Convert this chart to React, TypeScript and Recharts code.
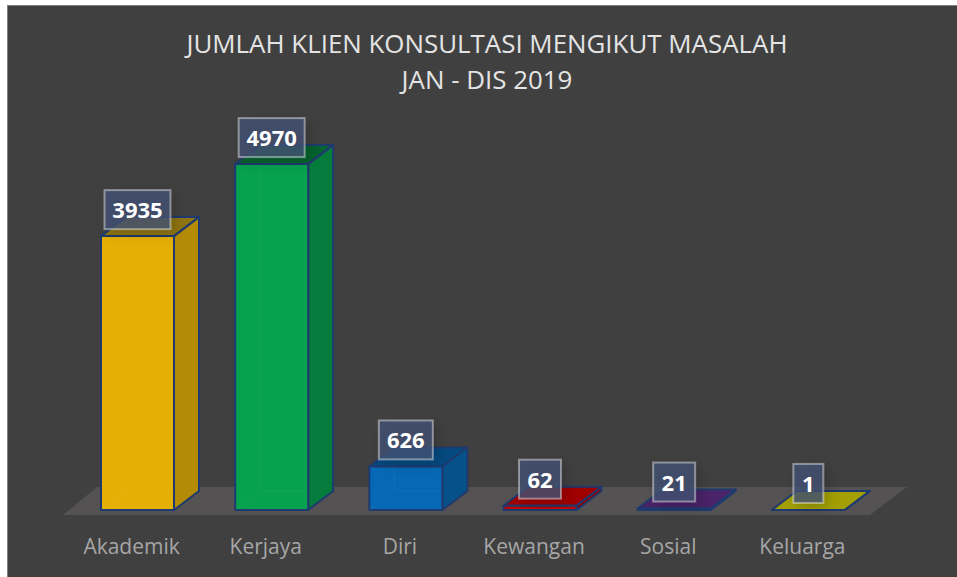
import { BarChart, Bar, XAxis, YAxis, Cell, LabelList, Customized } from 'recharts';

const categories = ['Akademik', 'Kerjaya', 'Diri', 'Kewangan', 'Sosial', 'Keluarga'];
const clients = [3935, 4970, 626, 62, 21, 1];
const frontColors = ['#E6AF06', '#07A24E', '#0569B5', '#C00000', '#5B2A83', '#C4BE05'];
const sideColors = ['#B38B06', '#067C3C', '#05528B', '#8E0000', '#43205F', '#9A9605'];
const topColors = ['#8F7512', '#06632F', '#054A80', '#A00000', '#4A2368', '#A3A005'];
const titleLines = ['JUMLAH KLIEN KONSULTASI MENGIKUT MASALAH', 'JAN - DIS 2019'];

const data = categories.map((name, i) => ({ name, value: clients[i] }));

const DEPTH_X = 25;
const DEPTH_Y = 19;
const EDGE = '#1F3A6E';
const FONT = '"Open Sans", "Noto Sans", sans-serif';

function Bar3D(props: any) {
  const { x, y, width, height, index } = props;
  const bottom = y + height;
  const right = x + width;
  return (
    <g stroke={EDGE} strokeWidth={2} strokeLinejoin="round">
      <polygon
        points={`${x},${y} ${right},${y} ${right + DEPTH_X},${y - DEPTH_Y} ${x + DEPTH_X},${y - DEPTH_Y}`}
        fill={topColors[index]}
      />
      <polygon
        points={`${right},${y} ${right + DEPTH_X},${y - DEPTH_Y} ${right + DEPTH_X},${bottom - DEPTH_Y} ${right},${bottom}`}
        fill={sideColors[index]}
      />
      <rect x={x} y={y} width={width} height={height} fill={frontColors[index]} />
      {height > 20 && (
        <g stroke="#FFFFFF" strokeOpacity={0.05} strokeWidth={1}>
          <line x1={x + DEPTH_X} y1={y} x2={x + DEPTH_X} y2={bottom - DEPTH_Y} />
          <line x1={x} y1={bottom} x2={x + DEPTH_X} y2={bottom - DEPTH_Y} />
          <line x1={x + DEPTH_X} y1={bottom - DEPTH_Y} x2={right} y2={bottom - DEPTH_Y} />
        </g>
      )}
    </g>
  );
}

function ValueBox(props: any) {
  const { x, y, width, value } = props;
  const boxWidth = String(value).length * 12 + 18;
  const cx = x + width / 2;
  return (
    <g>
      <rect
        x={cx - boxWidth / 2}
        y={y - 46}
        width={boxWidth}
        height={39}
        fill="#445274"
        fillOpacity={0.8}
        stroke="#FFFFFF"
        strokeOpacity={0.42}
        strokeWidth={2}
        style={{ filter: 'drop-shadow(4px 4px 6px rgba(0,0,0,0.22))' }}
      />
      <text
        x={cx}
        y={y - 27}
        textAnchor="middle"
        dominantBaseline="central"
        fill="#FFFFFF"
        fontFamily={FONT}
        fontWeight={700}
        fontSize={22}
      >
        {value}
      </text>
    </g>
  );
}

function CategoryTick(props: any) {
  const { x, y, payload } = props;
  return (
    <text x={x - 5.5} y={y + 36} textAnchor="middle" fill="#A6A6A6" fontFamily={FONT} fontSize={21}>
      {payload.value}
    </text>
  );
}

function Backdrop() {
  return (
    <g>
      <polygon points="63,515 870,515 907,487 97,487" fill="#545252" />
      {titleLines.map((line, i) => (
        <text
          key={line}
          x={487}
          y={53 + i * 36}
          textAnchor="middle"
          fill="#E4E4E4"
          fontFamily={FONT}
          fontSize={25.9}
        >
          {line}
        </text>
      ))}
    </g>
  );
}

export default function App() {
  return (
    <div style={{ position: 'absolute', left: 0, top: 0, width: 957, height: 577, background: '#FFFFFF' }}>
      <div
        style={{
          position: 'absolute',
          left: 7,
          top: 5,
          width: 950,
          height: 572,
          boxSizing: 'border-box',
          background: '#404040',
          borderLeft: '1px solid #7F7F7F',
          borderTop: '1px solid #7F7F7F',
        }}
      />
      <BarChart
        width={957}
        height={577}
        data={data}
        margin={{ top: 162, right: 82, bottom: 7, left: 70 }}
        style={{ position: 'absolute', left: 0, top: 0 }}
      >
        <Customized component={Backdrop} />
        <XAxis dataKey="name" axisLine={false} tickLine={false} height={60} interval={0} tick={CategoryTick} />
        <YAxis hide domain={[0, 5000]} />
        <Bar dataKey="value" barSize={73} isAnimationActive={false} shape={Bar3D}>
          {data.map((d) => (
            <Cell key={d.name} />
          ))}
          <LabelList dataKey="value" content={ValueBox} />
        </Bar>
      </BarChart>
    </div>
  );
}
